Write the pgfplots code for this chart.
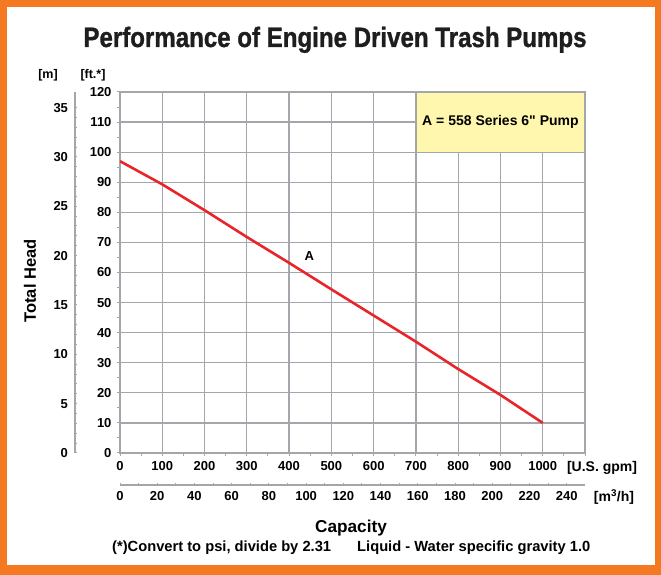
\documentclass[border=0pt]{standalone}
\usepackage{graphicx}
\usepackage{pgfplots}
\pgfplotsset{compat=1.18}
\usepackage{fontspec}
\setmainfont{Liberation Sans}
\newfontfamily\plainfont{Liberation Sans}[Ligatures=ResetAll]
\newfontfamily\titlefont{Liberation Sans}[BoldFeatures={FakeBold=1.2}]
\definecolor{frameorange}{RGB}{244,121,32}
\definecolor{gridgray}{RGB}{163,167,171}
\definecolor{curvered}{RGB}{232,38,42}
\definecolor{boxyellow}{RGB}{255,247,174}
\definecolor{titleblack}{RGB}{30,30,30}
\begin{document}
\begin{tikzpicture}
\fill[frameorange] (0,0) rectangle (661pt,575pt);
\fill[white] (7pt,10pt) rectangle (655pt,568pt);
\useasboundingbox (0,0) rectangle (661pt,575pt);
\pgfplotsset{every axis/.append style={
  font=\bfseries\fontsize{13}{15}\selectfont,
  /pgf/number format/assume math mode=true,
  scale only axis, anchor=south west,
  tick style={gridgray, line width=1pt},
  axis line style={gridgray, line width=1.3pt},
  tick align=outside, major tick length=3pt, minor tick length=3pt}}
% main axis (ft vs gpm)
\begin{axis}[
  at={(120pt,122pt)}, width=465pt, height=361pt,
  xmin=0, xmax=1100, ymin=0, ymax=120,
  xtick={0,100,...,1100},
  xticklabels={0,100,200,300,400,500,600,700,800,900,1000,{}},
  ytick={0,10,...,120},
  minor x tick num=1, minor y tick num=1,
  grid=major, major grid style={gridgray, line width=1.3pt},
  xtick pos=left, ytick pos=left,
  xticklabel style={yshift=-2pt}, yticklabel style={xshift=-2pt},
]
\addplot[curvered, line width=2.6pt] coordinates {
 (0,97) (100,89.3) (200,80.7) (300,71.8) (400,63.2) (500,54.4)
 (600,45.7) (700,37) (800,27.9) (900,19.3) (1000,10)};
\draw[gridgray, line width=1.3pt, fill=boxyellow] (axis cs:700,100) rectangle (axis cs:1100,120);
\node[font=\bfseries\fontsize{14}{16}\selectfont] at (axis cs:900,110) {A = 558 Series 6{\plainfont\bfseries"} Pump};
\node at (axis cs:448,65.5) {A};
\end{axis}
% metre axis
\begin{axis}[
  at={(75pt,122pt)}, width=10pt, height=361pt,
  xmin=0, xmax=1, ymin=0, ymax=36.576,
  axis y line=left, axis x line=none,
  axis line style={-},
  ytick={0,5,...,35}, minor y tick num=4,
  yticklabel style={xshift=-2pt},
]
\end{axis}
% m3/h axis
\begin{axis}[
  at={(120pt,90pt)}, width=465pt, height=10pt,
  xmin=0, xmax=249.83, ymin=0, ymax=1,
  axis x line=bottom, axis y line=none,
  axis line style={-},
  xtick={0,20,...,240}, minor x tick num=1,
  xticklabel style={yshift=-1pt},
]
\end{axis}
\begin{scope}[font=\bfseries\fontsize{12.5}{14}\selectfont]
\node at (48pt,500pt) {[m]};
\node at (93pt,500pt) {[ft.*]};
\end{scope}
\begin{scope}[font=\bfseries\fontsize{14}{16}\selectfont]
\node at (602pt,107pt) {[U.S. gpm]};
\node at (614pt,78pt) {[m\textsuperscript{3}/h]};
\end{scope}
\begin{scope}[font=\bfseries\fontsize{14.7}{16}\selectfont, inner sep=0pt]
\node[anchor=base west] at (112pt,23pt) {(*)Convert to psi, divide by 2.31};
\node[anchor=base west] at (357pt,23pt) {Liquid - Water specific gravity 1.0};
\end{scope}
\node[font=\bfseries\fontsize{17.2}{19}\selectfont, anchor=base, inner sep=0pt] at (351pt,42pt) {Capacity};
\node[font=\bfseries\fontsize{16.5}{18}\selectfont, rotate=90] at (30pt,294pt) {Total Head};
\node[font=\titlefont\bfseries\fontsize{28}{32}\selectfont, text=titleblack, anchor=base, inner sep=0pt] at (335pt,528pt) {\scalebox{0.86}[1]{Performance of Engine Driven Trash Pumps}};
\end{tikzpicture}
\end{document}
